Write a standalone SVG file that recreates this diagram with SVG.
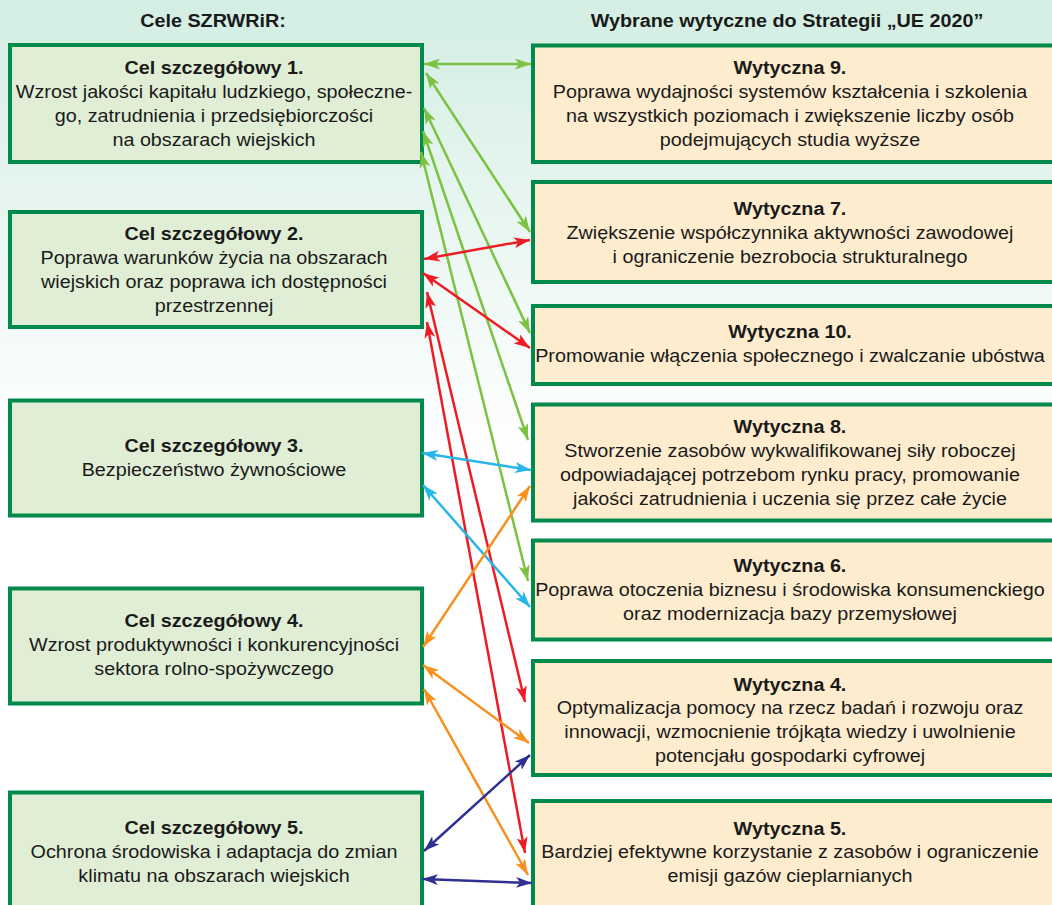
<svg xmlns="http://www.w3.org/2000/svg" width="1052" height="905" viewBox="0 0 1052 905">
<style>
  text{font-family:"Liberation Sans",Arial,sans-serif;font-size:17.5px;fill:#1a1a1a;text-anchor:middle}
  .b{font-weight:bold}
  .cel{fill:#e0eed5;stroke:#008a4c;stroke-width:4}
  .wyt{fill:#feecce;stroke:#008a4c;stroke-width:4}
  .c line{stroke-width:2.5;fill:none}
  .g{stroke:#7cc242;marker-start:url(#mg);marker-end:url(#mg)}
  .r{stroke:#ed1c24;marker-start:url(#mr);marker-end:url(#mr)}
  .lb{stroke:#27b6ea;marker-start:url(#mb);marker-end:url(#mb)}
  .o{stroke:#f7901e;marker-start:url(#mo);marker-end:url(#mo)}
  .d{stroke:#2e3192;marker-start:url(#md);marker-end:url(#md)}
</style>
<defs>
  <linearGradient id="bg" x1="0" y1="0" x2="0" y2="1">
    <stop offset="0" stop-color="#d3eee3"/>
    <stop offset="0.5" stop-color="#ffffff"/>
    <stop offset="1" stop-color="#ffffff"/>
  </linearGradient>
  <marker id="mg" viewBox="0 0 16 11" refX="16" refY="5.5" markerWidth="16" markerHeight="11" markerUnits="userSpaceOnUse" orient="auto-start-reverse"><path d="M0,0 L16,5.5 L0,11 L4,5.5 z" fill="#7cc242"/></marker>
  <marker id="mr" viewBox="0 0 16 11" refX="16" refY="5.5" markerWidth="16" markerHeight="11" markerUnits="userSpaceOnUse" orient="auto-start-reverse"><path d="M0,0 L16,5.5 L0,11 L4,5.5 z" fill="#ed1c24"/></marker>
  <marker id="mb" viewBox="0 0 16 11" refX="16" refY="5.5" markerWidth="16" markerHeight="11" markerUnits="userSpaceOnUse" orient="auto-start-reverse"><path d="M0,0 L16,5.5 L0,11 L4,5.5 z" fill="#27b6ea"/></marker>
  <marker id="mo" viewBox="0 0 16 11" refX="16" refY="5.5" markerWidth="16" markerHeight="11" markerUnits="userSpaceOnUse" orient="auto-start-reverse"><path d="M0,0 L16,5.5 L0,11 L4,5.5 z" fill="#f7901e"/></marker>
  <marker id="md" viewBox="0 0 16 11" refX="16" refY="5.5" markerWidth="16" markerHeight="11" markerUnits="userSpaceOnUse" orient="auto-start-reverse"><path d="M0,0 L16,5.5 L0,11 L4,5.5 z" fill="#2e3192"/></marker>
</defs>
<rect x="0" y="0" width="1052" height="905" fill="url(#bg)"/>

<g id="titles">
  <g transform="translate(213 0) scale(1.13 1)"><text class="b" x="0" y="27">Cele SZRWRiR:</text></g>
  <g transform="translate(787 0) scale(1.13 1)"><text class="b" x="0" y="27">Wybrane wytyczne do Strategii „UE 2020”</text></g>
</g>

<g id="cel1">
  <rect class="cel" x="10" y="45" width="412" height="117"/>
  <g transform="translate(214 0) scale(1.13 1)">
    <text class="b" x="0" y="74">Cel szczegółowy 1.</text>
    <text x="0" y="98">Wzrost jakości kapitału ludzkiego, społeczne-</text>
    <text x="0" y="122">go, zatrudnienia i przedsiębiorczości</text>
    <text x="0" y="146">na obszarach wiejskich</text>
  </g>
</g>
<g id="cel2">
  <rect class="cel" x="10" y="212" width="412" height="115"/>
  <g transform="translate(214 0) scale(1.13 1)">
    <text class="b" x="0" y="240">Cel szczegółowy 2.</text>
    <text x="0" y="264">Poprawa warunków życia na obszarach</text>
    <text x="0" y="288">wiejskich oraz poprawa ich dostępności</text>
    <text x="0" y="312">przestrzennej</text>
  </g>
</g>
<g id="cel3">
  <rect class="cel" x="10" y="400.5" width="412" height="115"/>
  <g transform="translate(214 0) scale(1.13 1)">
    <text class="b" x="0" y="452">Cel szczegółowy 3.</text>
    <text x="0" y="476">Bezpieczeństwo żywnościowe</text>
  </g>
</g>
<g id="cel4">
  <rect class="cel" x="10" y="588.5" width="412" height="115"/>
  <g transform="translate(214 0) scale(1.13 1)">
    <text class="b" x="0" y="627">Cel szczegółowy 4.</text>
    <text x="0" y="651">Wzrost produktywności i konkurencyjności</text>
    <text x="0" y="675">sektora rolno-spożywczego</text>
  </g>
</g>
<g id="cel5">
  <rect class="cel" x="10" y="792.5" width="412" height="120"/>
  <g transform="translate(214 0) scale(1.13 1)">
    <text class="b" x="0" y="834">Cel szczegółowy 5.</text>
    <text x="0" y="858">Ochrona środowiska i adaptacja do zmian</text>
    <text x="0" y="882">klimatu na obszarach wiejskich</text>
  </g>
</g>

<g id="wyt9">
  <rect class="wyt" x="533" y="45.5" width="530" height="116.5"/>
  <g transform="translate(790 0) scale(1.13 1)">
    <text class="b" x="0" y="74">Wytyczna 9.</text>
    <text x="0" y="98">Poprawa wydajności systemów kształcenia i szkolenia</text>
    <text x="0" y="122">na wszystkich poziomach i zwiększenie liczby osób</text>
    <text x="0" y="146">podejmujących studia wyższe</text>
  </g>
</g>
<g id="wyt7">
  <rect class="wyt" x="533" y="182" width="530" height="100"/>
  <g transform="translate(790 0) scale(1.13 1)">
    <text class="b" x="0" y="215">Wytyczna 7.</text>
    <text x="0" y="239">Zwiększenie współczynnika aktywności zawodowej</text>
    <text x="0" y="263">i ograniczenie bezrobocia strukturalnego</text>
  </g>
</g>
<g id="wyt10">
  <rect class="wyt" x="533" y="306" width="530" height="78"/>
  <g transform="translate(790 0) scale(1.13 1)">
    <text class="b" x="0" y="338">Wytyczna 10.</text>
    <text x="0" y="362">Promowanie włączenia społecznego i zwalczanie ubóstwa</text>
  </g>
</g>
<g id="wyt8">
  <rect class="wyt" x="533" y="404.5" width="530" height="116"/>
  <g transform="translate(790 0) scale(1.13 1)">
    <text class="b" x="0" y="433">Wytyczna 8.</text>
    <text x="0" y="457">Stworzenie zasobów wykwalifikowanej siły roboczej</text>
    <text x="0" y="481">odpowiadającej potrzebom rynku pracy, promowanie</text>
    <text x="0" y="505">jakości zatrudnienia i uczenia się przez całe życie</text>
  </g>
</g>
<g id="wyt6">
  <rect class="wyt" x="533" y="540.5" width="530" height="99"/>
  <g transform="translate(790 0) scale(1.13 1)">
    <text class="b" x="0" y="572">Wytyczna 6.</text>
    <text x="0" y="596">Poprawa otoczenia biznesu i środowiska konsumenckiego</text>
    <text x="0" y="620">oraz modernizacja bazy przemysłowej</text>
  </g>
</g>
<g id="wyt4">
  <rect class="wyt" x="533" y="661" width="530" height="114"/>
  <g transform="translate(790 0) scale(1.13 1)">
    <text class="b" x="0" y="691">Wytyczna 4.</text>
    <text x="0" y="714">Optymalizacja pomocy na rzecz badań i rozwoju oraz</text>
    <text x="0" y="738">innowacji, wzmocnienie trójkąta wiedzy i uwolnienie</text>
    <text x="0" y="762">potencjału gospodarki cyfrowej</text>
  </g>
</g>
<g id="wyt5">
  <rect class="wyt" x="533" y="801" width="530" height="120"/>
  <g transform="translate(790 0) scale(1.13 1)">
    <text class="b" x="0" y="835">Wytyczna 5.</text>
    <text x="0" y="858">Bardziej efektywne korzystanie z zasobów i ograniczenie</text>
    <text x="0" y="882">emisji gazów cieplarnianych</text>
  </g>
</g>

<g id="connectors" class="c">
  <line class="g" x1="424" y1="64" x2="531" y2="64"/>
  <line class="g" x1="426" y1="73" x2="530" y2="232"/>
  <line class="g" x1="424" y1="108" x2="530" y2="333"/>
  <line class="g" x1="423" y1="131" x2="528" y2="440"/>
  <line class="g" x1="421" y1="152" x2="528" y2="581"/>
  <line class="r" x1="424" y1="259" x2="530" y2="240"/>
  <line class="r" x1="423" y1="273" x2="530" y2="348"/>
  <line class="r" x1="427" y1="292" x2="525" y2="702"/>
  <line class="r" x1="427" y1="322" x2="525" y2="853"/>
  <line class="lb" x1="422" y1="453" x2="531" y2="470"/>
  <line class="lb" x1="423" y1="485" x2="530" y2="607"/>
  <line class="o" x1="423" y1="647" x2="530" y2="486"/>
  <line class="o" x1="423" y1="665" x2="529" y2="743"/>
  <line class="o" x1="424" y1="689" x2="528" y2="875"/>
  <line class="d" x1="424" y1="851" x2="530" y2="755"/>
  <line class="d" x1="422" y1="879" x2="532" y2="883"/>
</g>
</svg>
